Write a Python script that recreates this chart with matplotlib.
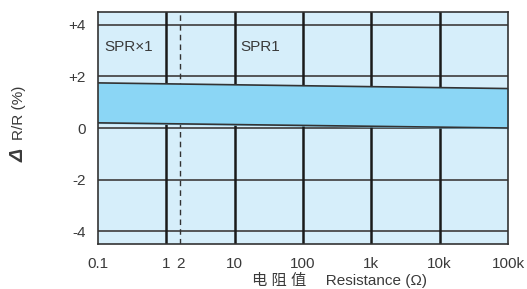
import matplotlib
matplotlib.use("Agg")
import matplotlib.pyplot as plt
import numpy as np

plt.rcParams['font.family'] = ['Liberation Sans', 'Noto Sans CJK SC', 'DejaVu Sans']

# data
r_ends = [0.1, 100000]
upper = [1.75, 1.53]
lower = [0.2, 0.0]
x_ticks = [0.1, 1, 1.6, 10, 100, 1000, 10000, 100000]
x_labels = ["0.1", "1", "2", "10", "100", "1k", "10k", "100k"]
y_ticks = [-4, -2, 0, 2, 4]
y_labels = ["-4", "-2", "0", "+2", "+4"]
decades = [1, 10, 100, 1000, 10000]
dash_x = 1.6

txt = '#3a3a3a'

fig = plt.figure(figsize=(5.27, 2.89), dpi=100)
ax = fig.add_axes([98/527, 1 - 244/289, 410/527, 232/289])
ax.set_facecolor('#d6eefa')
ax.set_xscale('log')
ax.set_xlim(0.1, 100000)
ax.set_ylim(-4.5, 4.5)

ax.fill_between(r_ends, lower, upper, color='#8bd6f5', zorder=2)
ax.plot(r_ends, upper, color='#333333', lw=1.2, zorder=3)
ax.plot(r_ends, lower, color='#333333', lw=1.2, zorder=3)

for y in y_ticks:
    ax.axhline(y, color='#4a4a4a', lw=1.3, zorder=1)
for x in decades:
    ax.axvline(x, color='#1a1a1a', lw=1.8, zorder=1)
ax.axvline(dash_x, color='#333333', lw=1, ls=(0, (4, 3)), zorder=1)

ax.set_xticks(x_ticks)
ax.set_xticklabels(x_labels)
ax.xaxis.set_minor_locator(matplotlib.ticker.NullLocator())
ax.set_yticks(y_ticks)
ax.set_yticklabels(y_labels)
ax.tick_params(length=0, labelsize=11, colors=txt)
ax.tick_params(axis='x', pad=9)
ax.tick_params(axis='y', pad=9)
for s in ax.spines.values():
    s.set_color('#333333')
    s.set_linewidth(1.2)

ax.text(0.125, 3.15, "SPR×1", fontsize=11, color=txt, va='center')
ax.text(12, 3.15, "SPR1", fontsize=11, color=txt, va='center')

fig.text(339/527, 1 - 280/289, "电 阻 值　 Resistance (Ω)", fontsize=11,
         color=txt, ha='center', va='center')
fig.text(19/527, 1 - 113/289, "R/R (%)", fontsize=11, color=txt,
         rotation=90, ha='center', va='center')
fig.text(19/527, 1 - 155/289, "Δ", fontsize=14, color=txt, rotation=90,
         ha='center', va='center', fontweight='bold', style='italic')

fig.savefig('out.png', dpi=100)
